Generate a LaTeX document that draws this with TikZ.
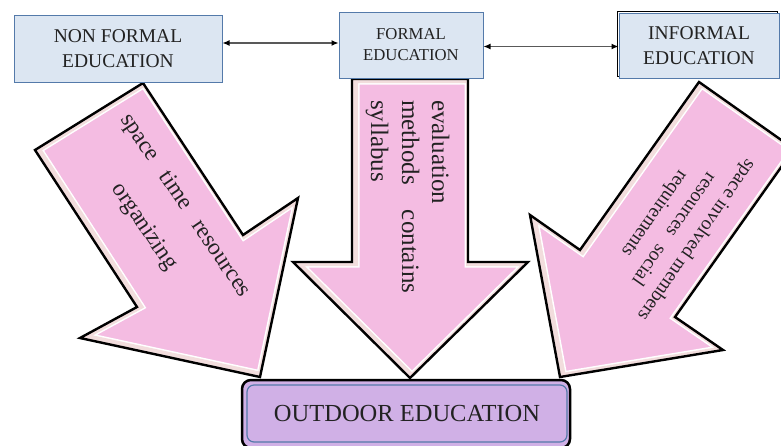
\documentclass[tikz,border=0pt]{standalone}
\usepackage{fontspec}
\setmainfont{Liberation Serif}
\usetikzlibrary{arrows.meta}

\definecolor{boxfill}{RGB}{220,230,242}
\definecolor{boxline}{RGB}{84,122,170}
\definecolor{arrowpink}{RGB}{244,188,226}
\definecolor{arrowband}{RGB}{242,221,221}
\definecolor{outfill}{RGB}{208,176,230}
\definecolor{inktext}{RGB}{34,34,34}

% Block arrow: outline path #1, inner pink panel shifted by #2
\newcommand\pinkarrow[2]{%
  \begin{scope}
    \clip #1 -- cycle;
    \fill[arrowband] #1 -- cycle;
    \begin{scope}[shift={#2}]
      \draw[white, line width=11pt, fill=arrowpink] #1 -- cycle;
      \draw[arrowband, line width=8pt] #1 -- cycle;
    \end{scope}
  \end{scope}
  \draw[black, line width=2.4pt, line join=miter] #1 -- cycle;
}

\begin{document}
\begin{tikzpicture}[x=1pt, y=-1pt,
  edubox/.style={draw=boxline, line width=1pt, fill=boxfill, align=center,
    text=inktext, inner sep=0pt},
  bigfont/.style={font=\fontsize{19.5}{25}\selectfont},
  smallfont/.style={font=\fontsize{16.7}{21}\selectfont},
  linkarrow/.style={black!65, line width=1.2pt,
    {Latex[length=7pt,width=6pt,black]}-{Latex[length=7pt,width=6pt,black]}},
  arrowtext/.style={text=inktext, inner sep=0pt}]

\useasboundingbox (0,0) rectangle (781,445);
\clip (0,0) rectangle (781,445);
\fill[white] (0,0) rectangle (781,445);

% three block arrows pointing to the outdoor box
\pinkarrow{(352,79) -- (468,79) -- (468,262) -- (528,262) -- (410,378) -- (293,262) -- (352,262)}{(2,0)}
\pinkarrow{(143,83) -- (35,150) -- (137,307) -- (80,338) -- (260,377) -- (298,198) -- (243,235)}{(1.5,-1)}
\pinkarrow{(699,82) -- (794,149) -- (675,317) -- (723,350) -- (560,377) -- (530,215) -- (580,250)}{(2,0)}

% text inside the arrows
\begin{scope}[arrowtext, font=\fontsize{25}{31}\selectfont]
  \node[rotate=-90, anchor=base west] (evaltext) at (432,100) {evaluation};
  \node[rotate=-90, anchor=base west] (methtext) at (402,100) {methods\hspace{25pt}contains};
  \node[rotate=-90, anchor=base west] (sylltext) at (371,100) {syllabus};
\end{scope}
\begin{scope}[arrowtext, font=\fontsize{23.4}{28}\selectfont]
  \node[rotate=-56] (nftext1) at (185,206) {space\hspace{17pt}time\hspace{17pt}resources};
  \node[rotate=-56] (nftext2) at (144,227) {organizing};
\end{scope}
\begin{scope}[arrowtext, font=\fontsize{19.4}{24}\selectfont]
  \node[rotate=235] (inftext1) at (696,240) {space involved members};
  \node[rotate=235] (inftext2) at (675,230) {resources\hspace{14pt}social};
  \node[rotate=235] (inftext3) at (654,213) {requirements};
\end{scope}

% education boxes
\node[edubox, bigfont, minimum width=208pt, minimum height=67pt] (nonformal) at (118,48.5) {NON FORMAL\\EDUCATION};
\node[edubox, smallfont, minimum width=144pt, minimum height=66pt] (formal) at (411,45) {FORMAL\\EDUCATION};
\node[edubox, bigfont, minimum width=160pt, minimum height=65pt,
  preaction={draw=black, line width=1.4pt, transform canvas={xshift=-1.5pt, yshift=1.5pt}}]
  (informal) at (699,45.5) {INFORMAL\\EDUCATION};

% links between the boxes
\draw[linkarrow] ([yshift=5.5pt]nonformal.east) -- ([yshift=2pt]formal.west);
\draw[linkarrow] ([yshift=-1.5pt]formal.east) -- ([yshift=-1pt]informal.west);

% outdoor education box
\draw[line width=2.5pt, rounded corners=9pt, fill=outfill] (242,380) rectangle (570,448);
\node[draw=boxline, line width=1.2pt, fill=outfill, rounded corners=7pt,
  minimum width=320pt, minimum height=57pt, text=inktext,
  font=\fontsize{24.5}{30}\selectfont] (outdoor) at (407,413.5) {OUTDOOR EDUCATION};
\end{tikzpicture}
\end{document}
